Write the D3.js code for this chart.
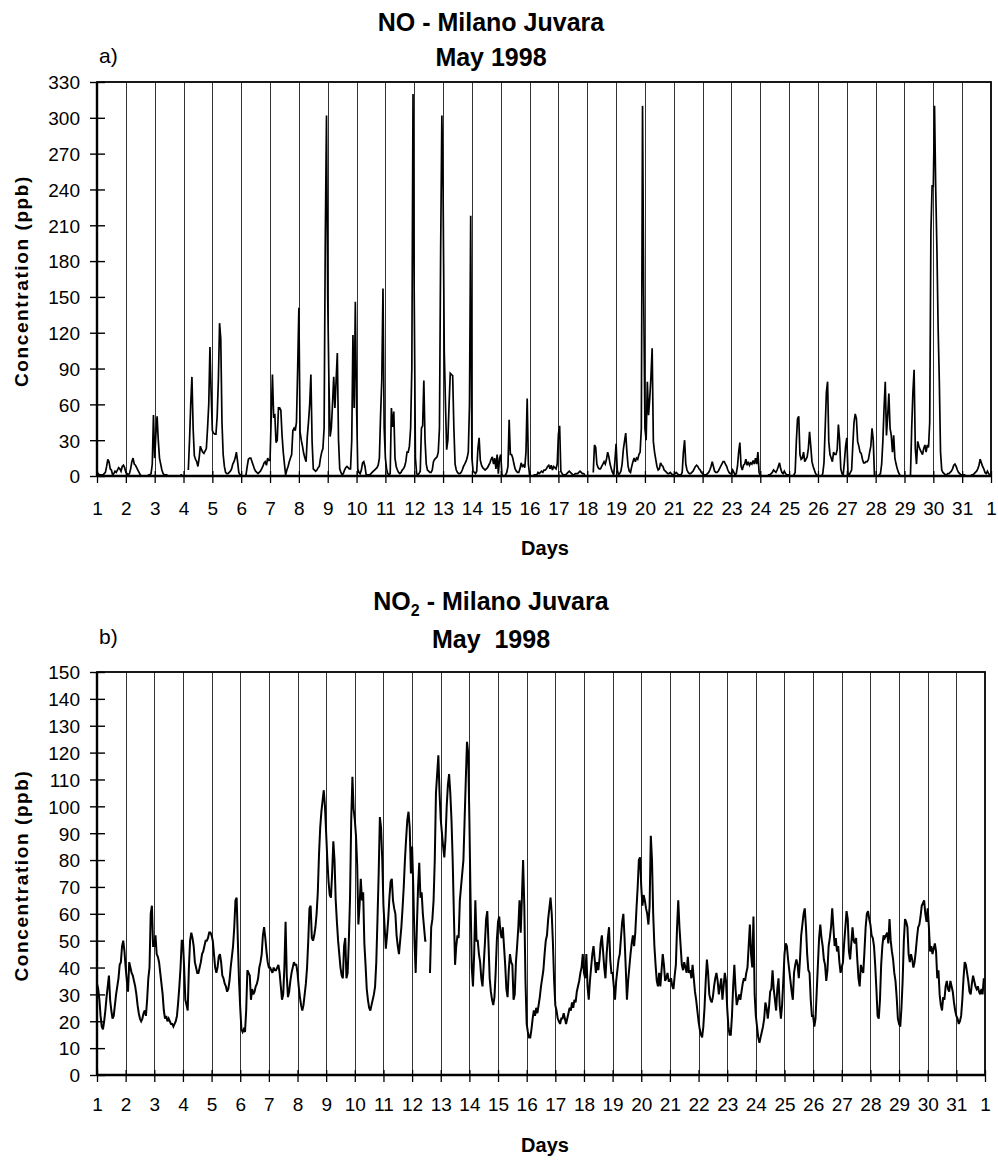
<!DOCTYPE html>
<html><head><meta charset="utf-8">
<script src="https://cdn.jsdelivr.net/npm/d3@7"></script>
<style>
body{margin:0;background:#fff}
svg{display:block}
text{font-family:Arial,"Liberation Sans",sans-serif;fill:#000}
</style>
</head><body>
<svg id="c" width="998" height="1163"></svg>
<script>
// ---------- DATA ----------
const dayLabels = ["1","2","3","4","5","6","7","8","9","10","11","12","13","14","15","16","17","18","19","20","21","22","23","24","25","26","27","28","29","30","31","1"];
const noTicks = [0,30,60,90,120,150,180,210,240,270,300,330];
const no2Ticks = [0,10,20,30,40,50,60,70,80,90,100,110,120,130,140,150];

// NO hourly concentrations (ppb), one row per day of May 1998 (null = missing)
const noByDay = [
[2,2,1,1,1,1,2,3,8,14,12,6,5,1,2,4,3,5,7,6,4,8,9,7],
[3,2,1,2,6,12,15,10,9,7,5,3,1,0,0,0,0,0,0,1,1,2,10,51],
[15,35,50,30,15,10,5,2,1,1,1,0,0,0,0,0,0,0,0,0,0,0,1,1],
[null,null,null,null,5,30,60,83,40,17,14,12,8,15,25,22,20,19,21,23,40,60,108,70],
[38,36,35,35,50,80,128,115,45,18,8,3,2,2,3,4,6,10,12,15,20,12,3,1],
[1,0,0,0,1,8,14,15,15,12,9,6,4,3,2,3,4,6,8,11,12,9,15,13],
[13,50,85,50,51,28,30,57,57,55,34,20,10,1,5,8,12,15,18,38,40,38,45,90],
[141,37,30,25,19,15,12,33,45,60,85,29,6,5,4,5,7,8,15,20,23,40,200,302],
[150,80,33,40,60,83,57,80,103,30,6,3,1,2,5,7,8,7,6,6,30,118,57,146],
[60,6,3,2,5,11,12,8,1,1,1,1,2,3,4,5,6,7,9,15,51,80,157,40],
[15,6,2,1,2,57,41,54,15,8,5,3,2,3,5,6,8,12,20,20,25,40,90,320],
[150,15,2,1,2,4,40,42,80,30,10,5,4,3,3,5,12,14,15,16,20,40,190,302],
[240,104,60,22,30,60,86,85,84,40,10,5,3,2,2,3,5,8,10,12,15,20,60,218],
[15,4,3,2,4,23,32,13,9,7,6,5,6,7,9,11,14,16,10,15,6,18,2,15],
[18,1,0,0,1,3,8,47,18,18,15,10,6,4,3,3,6,11,8,9,7,20,65,10],
[1,0,0,0,1,1,1,3,2,3,4,3,5,5,6,8,9,6,9,5,8,7,6,10],
[35,42,4,2,1,1,1,2,3,4,3,2,1,1,2,2,2,3,4,3,2,2,1,null],
[null,null,null,null,null,3,26,24,10,7,6,6,8,10,12,10,14,20,16,10,6,3,1,12],
[27,5,1,2,4,10,22,29,36,20,8,4,3,8,12,15,12,15,14,18,20,40,310,150],
[40,30,79,51,65,83,107,29,20,14,8,5,6,11,9,8,5,4,3,2,2,3,2,1],
[1,2,3,2,1,1,1,3,20,30,10,5,3,2,2,3,4,6,8,9,8,6,5,3],
[2,1,1,1,2,3,5,8,12,8,4,3,3,4,6,8,10,12,12,10,8,5,3,2],
[2,5,3,1,2,8,20,28,8,5,9,10,14,9,12,9,11,10,13,10,15,10,20,3],
[0,0,0,0,0,0,0,1,1,2,3,5,4,3,5,8,11,6,3,2,4,2,1,1],
[1,0,0,0,1,3,29,48,50,18,14,15,20,12,14,16,23,37,25,12,8,5,2,1],
[0,0,0,0,2,11,40,70,79,29,18,15,12,20,18,18,22,43,30,6,2,1,12,25],
[32,2,1,3,5,26,45,52,48,29,25,20,19,14,11,11,12,12,14,20,25,40,30,1],
[0,0,0,1,2,10,29,57,79,34,50,69,40,34,20,34,15,10,6,3,1,0,0,0],
[0,0,0,0,0,1,40,70,89,23,10,29,25,22,20,18,23,26,20,26,24,45,205,243],
[243,310,240,190,124,79,20,5,3,2,1,1,2,2,3,4,6,9,10,8,5,3,2,1],
[1,1,1,0,0,0,0,0,1,1,2,3,4,6,9,14,11,8,6,3,2,4,2,1]
];

// NO2 hourly concentrations (ppb), one row per day (null = missing)
const no2ByDay = [
[34,32,28,22,18,17,20,24,29,33,37,28,24,21,22,26,30,33,36,41,42,48,50,46],
[40,35,31,42,40,38,37,35,33,30,26,23,21,20,21,23,24,22,28,36,40,60,63,48],
[48,52,45,44,42,38,34,30,24,21,22,20,21,20,19,19,18,19,20,22,27,33,40,50],
[50,40,28,26,24,40,50,53,51,48,42,40,38,38,40,42,45,46,48,50,50,51,53,53],
[52,50,45,40,38,40,44,45,42,37,36,34,33,31,32,35,40,44,48,55,65,66,50,35],
[25,17,16,17,16,24,39,38,37,28,32,30,31,33,34,36,40,42,45,52,55,51,46,42],
[40,40,39,38,40,39,39,40,41,38,33,28,30,40,57,37,29,31,35,38,40,42,41,41],
[38,33,29,26,24,26,30,34,40,50,62,63,51,50,52,55,60,68,82,92,98,102,106,100],
[90,80,72,67,66,75,87,80,65,57,50,45,40,37,36,48,51,36,38,50,66,95,111,99],
[95,89,78,56,63,73,65,68,49,41,32,28,25,24,26,28,30,33,42,58,75,96,92,80],
[63,55,47,52,58,66,72,73,65,62,60,52,48,45,50,55,62,70,80,88,95,98,92,75],
[85,70,50,38,55,70,79,66,68,60,55,50,50,null,null,38,55,58,65,80,105,112,119,105],
[95,90,85,81,88,100,108,112,105,95,80,60,41,48,52,51,65,70,75,80,95,110,124,120],
[95,65,40,33,45,65,50,50,45,42,36,33,41,49,58,61,49,36,31,28,26,29,38,50],
[57,59,53,51,55,48,41,32,29,39,45,42,41,28,30,42,48,55,65,53,66,80,63,35],
[19,16,14,14,17,21,24,22,25,23,26,29,33,36,39,45,50,52,58,62,66,60,49,35],
[26,24,21,20,19,21,21,23,21,19,21,23,25,24,27,25,28,27,31,33,35,38,40,45],
[38,36,45,33,28,35,40,45,48,43,38,42,39,43,49,52,46,40,36,45,51,55,43,38],
[38,33,28,35,39,43,45,51,57,60,51,40,28,35,40,45,49,52,48,53,62,70,80,81],
[70,63,67,65,62,60,56,63,89,80,60,48,41,35,33,38,33,39,45,41,35,36,38,35],
[35,36,33,32,37,41,55,65,55,48,41,39,42,40,38,44,38,39,36,41,36,31,28,24],
[20,17,15,14,18,25,35,43,38,30,28,27,29,33,36,38,35,30,33,36,28,33,38,35],
[25,18,15,15,22,33,41,32,26,28,30,28,31,34,36,35,38,40,48,56,45,40,59,30],
[22,18,14,12,14,16,18,21,27,25,21,25,31,32,39,32,28,24,32,36,26,21,26,35],
[45,49,48,43,39,35,31,28,38,41,43,41,36,43,52,56,60,62,55,45,39,38,28,22],
[22,18,21,31,41,51,56,51,48,43,41,35,39,48,51,55,62,55,48,51,46,48,42,38],
[40,42,49,55,61,58,46,43,49,55,50,49,51,43,36,33,41,39,38,46,55,60,61,58],
[56,52,51,48,41,32,22,21,28,41,48,52,51,52,53,49,58,50,46,43,38,35,29,21],
[19,18,25,35,50,58,57,55,45,42,45,43,40,42,46,51,55,56,59,63,64,65,60,57],
[62,55,46,48,45,47,49,46,36,39,30,26,24,29,28,33,35,32,31,35,33,31,27,24],
[22,21,19,20,22,28,36,42,41,38,35,31,30,34,37,35,33,32,33,31,30,32,30,36]
];

// ---------- DRAWING ----------
const svg = d3.select("#c");
const HOURS = 24 * 31;
const FONT = "Arial, 'Liberation Sans', sans-serif";

function panel(cfg) {
  const g = svg.append("g");
  const values = cfg.byDay.flat();
  const pts = values.map((v, i) => ({h: i, v: v}));
  const x = d3.scaleLinear().domain([0, HOURS]).range([cfg.left, cfg.right]);
  const y = d3.scaleLinear().domain([0, cfg.ticks[cfg.ticks.length - 1]]).range([cfg.bottom, cfg.top]);

  // vertical day gridlines
  g.append("g").selectAll("line").data(d3.range(1, 31)).join("line")
    .attr("x1", d => Math.round(x(d * 24)) + 0.5).attr("x2", d => Math.round(x(d * 24)) + 0.5)
    .attr("y1", cfg.top).attr("y2", cfg.bottom)
    .attr("stroke", "#333").attr("stroke-width", 1);

  // frame
  g.append("rect").attr("x", cfg.left).attr("y", cfg.top)
    .attr("width", cfg.right - cfg.left).attr("height", cfg.bottom - cfg.top)
    .attr("fill", "none").attr("stroke", "#000").attr("stroke-width", 1.8);

  // data line
  const line = d3.line().defined(d => d.v !== null)
    .x(d => x(d.h)).y(d => y(d.v));
  g.append("path").datum(pts).attr("d", line)
    .attr("fill", "none").attr("stroke", "#000").attr("stroke-width", cfg.lw)
    .attr("stroke-linejoin", "miter").attr("stroke-miterlimit", 3);

  // y axis
  const ya = d3.axisLeft(y).tickValues(cfg.ticks).tickSize(0).tickPadding(0).tickFormat(d3.format("d"));
  const yg = g.append("g").attr("transform", `translate(${cfg.left},0)`).call(ya);
  yg.select(".domain").remove();
  yg.selectAll(".tick text").attr("x", -17).attr("dy", "0.36em")
    .style("font-size", "19px").style("font-family", FONT);
  yg.selectAll(".tick").append("line").attr("x1", -7).attr("x2", 8).attr("stroke", "#000").attr("stroke-width", 1.4);

  // x axis (day ticks)
  const xa = d3.axisBottom(x).tickValues(d3.range(0, 32).map(d => d * 24))
    .tickSize(0).tickPadding(0).tickFormat((d, i) => dayLabels[i]);
  const xg = g.append("g").attr("transform", `translate(0,${cfg.bottom})`).call(xa);
  xg.select(".domain").remove();
  xg.selectAll(".tick text").attr("y", cfg.xlabOff).attr("dy", 0)
    .style("font-size", "19px").style("font-family", FONT);
  xg.selectAll(".tick").append("line").attr("y1", -5).attr("y2", 7).attr("stroke", "#000").attr("stroke-width", 1.3);

  // axis lines (heavier)
  g.append("line").attr("x1", cfg.left).attr("x2", cfg.left).attr("y1", cfg.top).attr("y2", cfg.bottom)
    .attr("stroke", "#000").attr("stroke-width", 2.4);
  g.append("line").attr("x1", cfg.left).attr("x2", cfg.right).attr("y1", cfg.bottom).attr("y2", cfg.bottom)
    .attr("stroke", "#000").attr("stroke-width", 2.4);

  // axis titles
  g.append("text").attr("transform", `translate(28,${(cfg.top + cfg.bottom) / 2 + 2}) rotate(-90)`)
    .attr("text-anchor", "middle").style("font-size", "19px").style("font-weight", "bold")
    .style("letter-spacing", "1.6px")
    .text("Concentration (ppb)");
  g.append("text").attr("x", 545).attr("y", cfg.daysY)
    .attr("text-anchor", "middle").style("font-size", "20px").style("font-weight", "bold")
    .text("Days");

  // titles
  const t1 = g.append("text").attr("x", 491).attr("y", cfg.titleY)
    .attr("text-anchor", "middle").style("font-size", "25px").style("font-weight", "bold");
  cfg.title(t1);
  g.append("text").attr("x", 491).attr("y", cfg.subY)
    .attr("text-anchor", "middle").style("font-size", "25px").style("font-weight", "bold")
    .style("white-space", "pre")
    .text(cfg.sub);
  g.append("text").attr("x", cfg.left + 2).attr("y", cfg.letterY)
    .style("font-size", "21px").text(cfg.letter);
}

panel({
  byDay: noByDay, ticks: noTicks, left: 97, right: 991, top: 82, bottom: 476, lw: 1.7,
  titleY: 31, subY: 66, letterY: 63, daysY: 555, xlabOff: 39,
  sub: "May 1998", letter: "a)",
  title: t => t.text("NO - Milano Juvara")
});
panel({
  byDay: no2ByDay, ticks: no2Ticks, left: 97, right: 985, top: 672, bottom: 1075, lw: 2,
  titleY: 610, subY: 648, letterY: 644, daysY: 1152, xlabOff: 36,
  sub: "May  1998", letter: "b)",
  title: t => { t.append("tspan").text("NO");
                t.append("tspan").attr("dy", 6).style("font-size", "16px").text("2");
                t.append("tspan").attr("dy", -6).text(" - Milano Juvara"); }
});
</script>
</body></html>
